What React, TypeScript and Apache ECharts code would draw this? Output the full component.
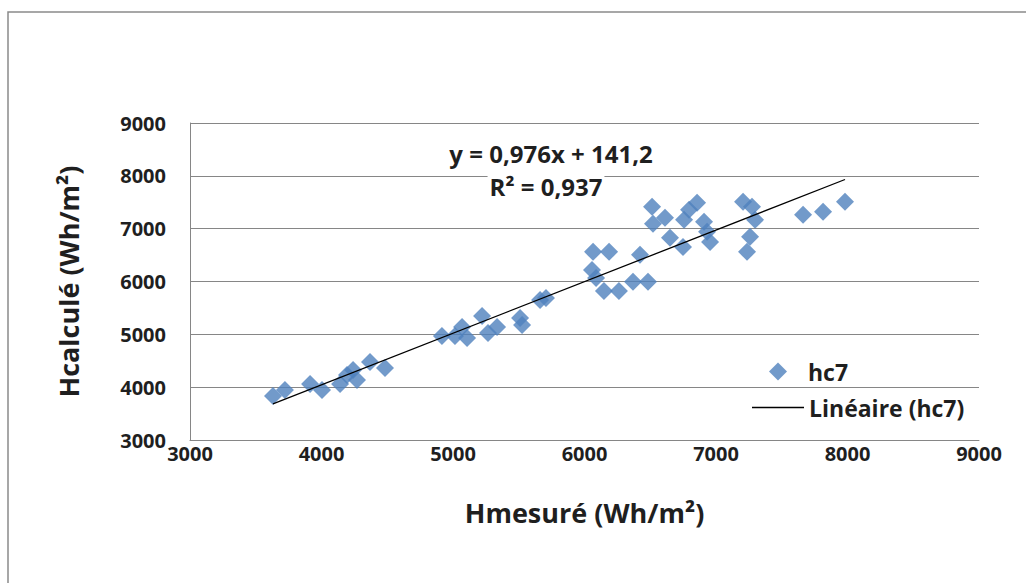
import React, { useEffect, useRef } from "react";
import * as echarts from "echarts";

const hmesure: number[] = [
  3631, 3722, 3913, 4004, 4141, 4194, 4240, 4270, 4369, 4483,
  4916, 5015, 5069, 5107, 5221, 5266, 5335, 5510, 5525, 5662, 5707,
  6065, 6187, 6057, 6088, 6148, 6262, 6369, 6483, 6422,
  6514, 6521, 6612, 6650, 6749, 6757, 6795, 6856, 6909, 6932, 6955,
  7206, 7274, 7297, 7259, 7236, 7662, 7814, 7981,
];
const hcalcule: number[] = [
  3833, 3947, 4061, 3947, 4061, 4231, 4326, 4136, 4477, 4364,
  4970, 4970, 5140, 4932, 5349, 5027, 5140, 5311, 5178, 5652, 5690,
  6561, 6561, 6220, 6068, 5822, 5822, 5993, 5993, 6504,
  7413, 7091, 7205, 6826, 6655, 7167, 7356, 7489, 7129, 6940, 6750,
  7508, 7413, 7167, 6845, 6561, 7262, 7318, 7508,
];
const slope = 0.976;
const intercept = 141.2;
const equationText = "y = 0,976x + 141,2";
const r2Text = "R² = 0,937";
const seriesName = "hc7";
const trendName = "Linéaire (hc7)";
const xTitle = "Hmesuré (Wh/m²)";
const yTitle = "Hcalculé (Wh/m²)";

export default function App() {
  const ref = useRef<HTMLDivElement>(null);
  useEffect(() => {
    if (!ref.current) return;
    const chart = echarts.init(ref.current, undefined, { renderer: "svg" });
    const pts = hmesure.map((x, i) => [x, hcalcule[i]]);
    const xMin = Math.min(...hmesure);
    const xMax = Math.max(...hmesure);
    const trend = [
      [xMin, slope * xMin + intercept],
      [xMax, slope * xMax + intercept],
    ];
    const font = "'Open Sans', sans-serif";
    const txt = "#1f1f1f";
    chart.setOption({
      animation: false,
      backgroundColor: "#fff",
      grid: { left: 190, right: 47, top: 123, bottom: 143, containLabel: false },
      xAxis: {
        type: "value",
        min: 3000,
        max: 9000,
        interval: 1000,
        name: xTitle,
        nameLocation: "middle",
        nameGap: 59,
        nameTextStyle: { fontFamily: font, fontWeight: "bold", fontSize: 27, color: txt },
        axisLine: { show: true, lineStyle: { color: "#868686" } },
        axisTick: { show: false },
        splitLine: { show: false },
        axisLabel: {
          fontFamily: font,
          fontWeight: "bold",
          fontSize: 20,
          color: txt,
          margin: 3,
          formatter: (v: number) => String(v),
        },
      },
      yAxis: {
        type: "value",
        min: 3000,
        max: 9000,
        interval: 1000,
        name: yTitle,
        nameLocation: "middle",
        nameGap: 108,
        nameTextStyle: { fontFamily: font, fontWeight: "bold", fontSize: 27, color: txt },
        axisLine: { show: true, lineStyle: { color: "#868686" } },
        axisTick: { show: false },
        splitLine: { show: true, lineStyle: { color: "#868686", width: 1 } },
        axisLabel: {
          fontFamily: font,
          fontWeight: "bold",
          fontSize: 20,
          color: txt,
          margin: 24,
          formatter: (v: number) => String(v),
        },
      },
      legend: [
        {
          left: 769,
          top: 360,
          padding: 0,
          itemWidth: 18,
          itemHeight: 18,
          textStyle: {
            fontFamily: font,
            fontWeight: "bold",
            fontSize: 23,
            color: txt,
            padding: [0, 0, 0, 16],
          },
          data: [{ name: seriesName, icon: "diamond" }],
        },
        {
          left: 752,
          top: 396,
          padding: 0,
          itemWidth: 52,
          itemHeight: 1.5,
          itemGap: 0,
          textStyle: { fontFamily: font, fontWeight: "bold", fontSize: 23, color: txt },
          data: [{ name: trendName, icon: "rect" }],
        },
      ],
      series: [
        {
          name: seriesName,
          type: "scatter",
          symbol: "diamond",
          symbolSize: 18,
          itemStyle: { color: "#4F81BD" },
          data: pts,
          z: 2,
        },
        {
          name: trendName,
          type: "line",
          showSymbol: false,
          symbol: "none",
          lineStyle: { color: "#000", width: 1.3 },
          itemStyle: { color: "#000" },
          data: trend,
          z: 3,
        },
      ],
      graphic: [
        {
          type: "rect",
          shape: { x: 8, y: 12, width: 1030, height: 600 },
          style: { fill: "none", stroke: "#8a8a8a", lineWidth: 1.5 },
          silent: true,
        },
        {
          type: "text",
          x: 551,
          y: 153,
          z: 10,
          style: {
            text: equationText,
            fontFamily: font,
            fontWeight: "bold",
            fontSize: 24,
            fill: txt,
            align: "center",
            verticalAlign: "middle",
          },
        },
        {
          type: "text",
          x: 546,
          y: 186,
          z: 10,
          style: {
            text: r2Text,
            fontFamily: font,
            fontWeight: "bold",
            fontSize: 24,
            fill: txt,
            align: "center",
            verticalAlign: "middle",
            backgroundColor: "#fff",
            padding: [0, 2, 0, 2],
          },
        },
      ],
    });
    return () => chart.dispose();
  }, []);
  return (
    <div
      ref={ref}
      style={{ position: "fixed", left: 0, top: 0, width: 1026, height: 583 }}
    />
  );
}
